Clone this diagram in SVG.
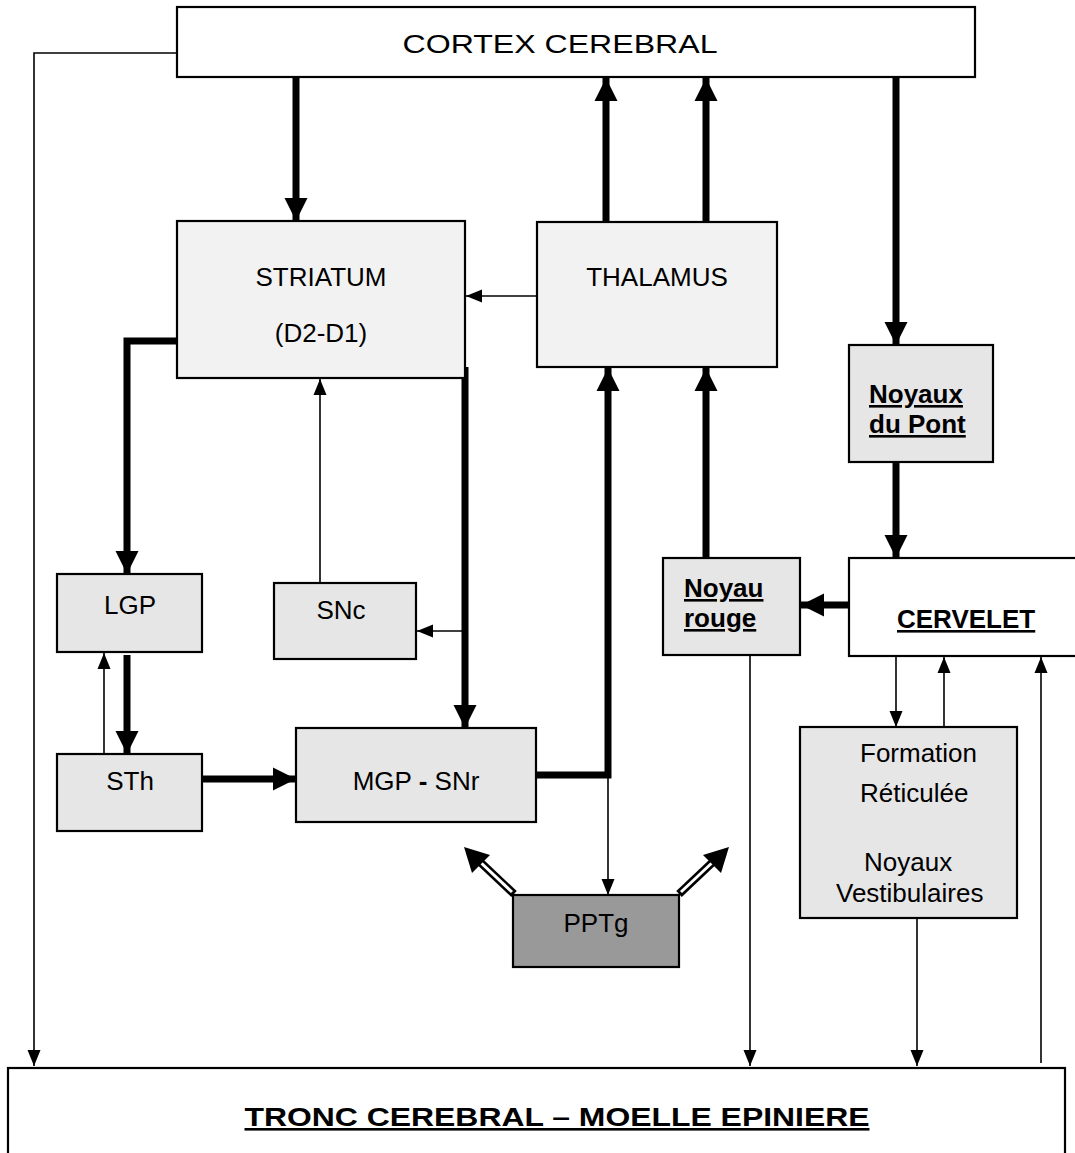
<svg xmlns="http://www.w3.org/2000/svg" width="1075" height="1153" viewBox="0 0 1075 1153">
<style>
.box{stroke:#000;stroke-width:2.2}
.g{fill:#e6e6e6}
.g2{fill:#f2f2f2}
.w{fill:#fff}
.dk{fill:#999}
text{font-family:"Liberation Sans",Arial,sans-serif;font-size:26px;fill:#000}
.b{font-weight:bold;text-decoration:underline}
.thick{fill:none;stroke:#000;stroke-width:7}
.thin{fill:none;stroke:#000;stroke-width:1.6}
</style>
<defs>
<marker id="hk" markerUnits="userSpaceOnUse" markerWidth="24" markerHeight="26" refX="23" refY="12" orient="auto"><path d="M0,0.5 L23,12 L0,23.5 z" fill="#000"/></marker>
<marker id="hn" markerUnits="userSpaceOnUse" markerWidth="16" markerHeight="14" refX="16" refY="7" orient="auto"><path d="M0,0.5 L16,7 L0,13.5 z" fill="#000"/></marker>
</defs>
<rect width="1075" height="1153" fill="#fff"/>
<g id="connectors">
<polyline class="thin" points="177,53 34,53 34,1066" marker-end="url(#hn)"/>
<line class="thick" x1="296" y1="77" x2="296" y2="221" marker-end="url(#hk)"/>
<line class="thick" x1="606" y1="222" x2="606" y2="78" marker-end="url(#hk)"/>
<line class="thick" x1="706" y1="222" x2="706" y2="78" marker-end="url(#hk)"/>
<line class="thin" x1="537" y1="296" x2="466" y2="296" marker-end="url(#hn)"/>
<line class="thick" x1="896" y1="77" x2="896" y2="345" marker-end="url(#hk)"/>
<line class="thick" x1="896" y1="462" x2="896" y2="558" marker-end="url(#hk)"/>
<line class="thick" x1="849" y1="605" x2="801" y2="605" marker-end="url(#hk)"/>
<line class="thick" x1="706" y1="558" x2="706" y2="368" marker-end="url(#hk)"/>
<line class="thin" x1="750" y1="655" x2="750" y2="1066" marker-end="url(#hn)"/>
<polyline class="thick" points="536,775 608,775 608,368" marker-end="url(#hk)"/>
<line class="thin" x1="608" y1="775" x2="608" y2="895" marker-end="url(#hn)"/>
<polyline class="thick" points="177,341 127,341 127,574" marker-end="url(#hk)"/>
<line class="thick" x1="127" y1="655" x2="127" y2="754" marker-end="url(#hk)"/>
<line class="thin" x1="104" y1="754" x2="104" y2="653" marker-end="url(#hn)"/>
<line class="thick" x1="202" y1="779" x2="296" y2="779" marker-end="url(#hk)"/>
<line class="thin" x1="320" y1="583" x2="320" y2="379" marker-end="url(#hn)"/>
<line class="thick" x1="465" y1="367" x2="465" y2="728" marker-end="url(#hk)"/>
<line class="thin" x1="465" y1="631" x2="417" y2="631" marker-end="url(#hn)"/>
<line class="thin" x1="896" y1="656" x2="896" y2="727" marker-end="url(#hn)"/>
<line class="thin" x1="944" y1="727" x2="944" y2="657" marker-end="url(#hn)"/>
<line class="thin" x1="1041" y1="1063" x2="1041" y2="657" marker-end="url(#hn)"/>
<line class="thin" x1="917" y1="918" x2="917" y2="1066" marker-end="url(#hn)"/>
<g id="ppt-left">
<line x1="514" y1="894" x2="478" y2="860" stroke="#000" stroke-width="8"/>
<line x1="512" y1="892" x2="478" y2="860" stroke="#fff" stroke-width="3"/>
<path d="M464,847 L490,855 L472,873 z" fill="#000"/>
</g>
<g id="ppt-right">
<line x1="679" y1="894" x2="715" y2="860" stroke="#000" stroke-width="8"/>
<line x1="681" y1="892" x2="715" y2="860" stroke="#fff" stroke-width="3"/>
<path d="M729,847 L703,855 L721,873 z" fill="#000"/>
</g>
</g>
<g id="cortex"><rect class="box w" x="177" y="7" width="798" height="70"/><text x="560" y="53" text-anchor="middle" font-size="34" textLength="315" lengthAdjust="spacingAndGlyphs">CORTEX CEREBRAL</text></g>
<g id="striatum"><rect class="box g2" x="177" y="221" width="288" height="157"/><text x="321" y="286" text-anchor="middle">STRIATUM</text><text x="321" y="342" text-anchor="middle">(D2-D1)</text></g>
<g id="thalamus"><rect class="box g2" x="537" y="222" width="240" height="145"/><text x="657" y="286" text-anchor="middle">THALAMUS</text></g>
<g id="noyaux-pont"><rect class="box g" x="849" y="345" width="144" height="117"/><text class="b" x="869" y="403">Noyaux</text><text class="b" x="869" y="433">du Pont</text></g>
<g id="cervelet"><rect class="box w" x="849" y="558" width="240" height="98"/><text class="b" x="897" y="628">CERVELET</text></g>
<g id="noyau-rouge"><rect class="box g" x="663" y="558" width="137" height="97"/><text class="b" x="684" y="597">Noyau</text><text class="b" x="684" y="627">rouge</text></g>
<g id="lgp"><rect class="box g" x="57" y="574" width="145" height="78"/><text x="130" y="614" text-anchor="middle">LGP</text></g>
<g id="snc"><rect class="box g" x="274" y="583" width="142" height="76"/><text x="341" y="619" text-anchor="middle">SNc</text></g>
<g id="sth"><rect class="box g" x="57" y="754" width="145" height="77"/><text x="130" y="790" text-anchor="middle">STh</text></g>
<g id="mgp-snr"><rect class="box g" x="296" y="728" width="240" height="94"/><text x="416" y="790" text-anchor="middle">MGP <tspan font-weight="bold">-</tspan> SNr</text></g>
<g id="pptg"><rect class="box dk" x="513" y="895" width="166" height="72"/><text x="596" y="932" text-anchor="middle">PPTg</text></g>
<g id="formation-reticulee"><rect class="box g" x="800" y="727" width="217" height="191"/><text x="860" y="762">Formation</text><text x="860" y="802">Réticulée</text><text x="864" y="871">Noyaux</text><text x="836" y="902">Vestibulaires</text></g>
<g id="tronc"><rect class="box w" x="8" y="1068" width="1057" height="100"/><text class="b" x="557" y="1126" text-anchor="middle" font-size="36" textLength="625" lengthAdjust="spacingAndGlyphs">TRONC CEREBRAL – MOELLE EPINIERE</text></g>
</svg>
